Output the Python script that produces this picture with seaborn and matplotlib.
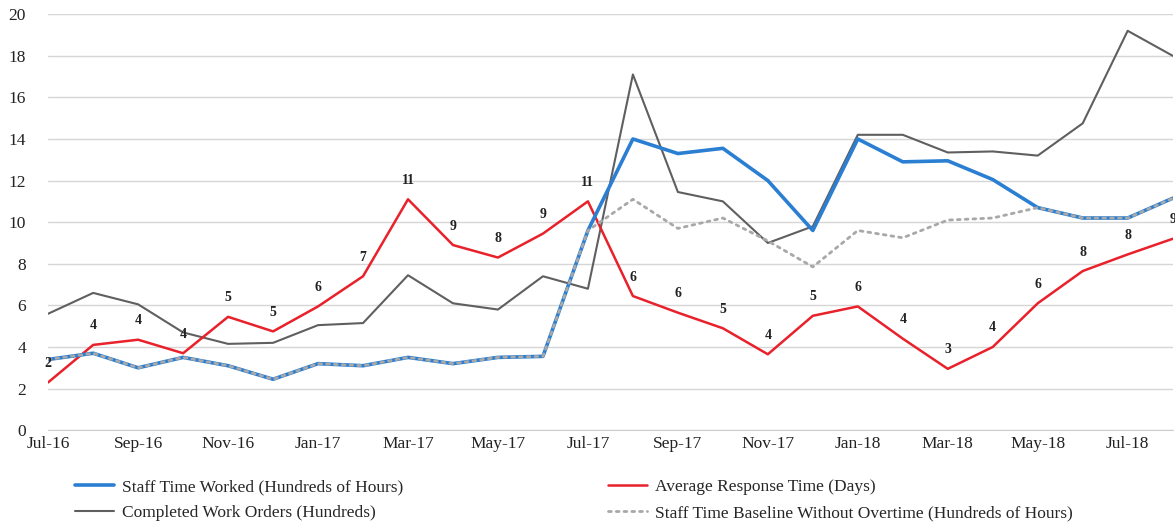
import matplotlib
matplotlib.use("Agg")
import matplotlib.pyplot as plt
import seaborn as sns
import pandas as pd

# Donnees (mensuel, Jul-16 -> Aug-18)
months = ["Jul-16", "Aug-16", "Sep-16", "Oct-16", "Nov-16", "Dec-16",
          "Jan-17", "Feb-17", "Mar-17", "Apr-17", "May-17", "Jun-17",
          "Jul-17", "Aug-17", "Sep-17", "Oct-17", "Nov-17", "Dec-17",
          "Jan-18", "Feb-18", "Mar-18", "Apr-18", "May-18", "Jun-18",
          "Jul-18", "Aug-18"]

staff_time = [3.4, 3.7, 3.0, 3.5, 3.1, 2.45, 3.2, 3.1, 3.5, 3.2, 3.5, 3.55,
              9.6, 14.0, 13.3, 13.55, 12.0, 9.6, 14.0, 12.9, 12.95, 12.05,
              10.7, 10.2, 10.2, 11.15]
response_time = [2.3, 4.1, 4.35, 3.7, 5.45, 4.75, 5.95, 7.4, 11.1, 8.9, 8.3,
                 9.45, 11.0, 6.45, 5.65, 4.9, 3.65, 5.5, 5.95, 4.4, 2.95, 4.0,
                 6.1, 7.65, 8.45, 9.2]
work_orders = [5.6, 6.6, 6.05, 4.7, 4.15, 4.2, 5.05, 5.15, 7.45, 6.1, 5.8,
               7.4, 6.8, 17.1, 11.45, 11.0, 9.0, 9.8, 14.2, 14.2, 13.35, 13.4,
               13.2, 14.75, 19.2, 18.0]
baseline = [3.4, 3.7, 3.0, 3.5, 3.1, 2.45, 3.2, 3.1, 3.5, 3.2, 3.5, 3.55,
            9.6, 11.1, 9.7, 10.2, 9.1, 7.85, 9.6, 9.25, 10.1, 10.2,
            10.7, 10.2, 10.2, 11.15]
response_labels = [2, 4, 4, 4, 5, 5, 6, 7, 11, 9, 8, 9, 11, 6, 6, 5, 4, 5,
                   6, 4, 3, 4, 6, 8, 8, 9]

df = pd.DataFrame({
    "idx": range(len(months)),
    "staff": staff_time,
    "response": response_time,
    "orders": work_orders,
    "baseline": baseline,
})

sns.set_style("white")
plt.rcParams["font.family"] = ["Liberation Serif", "DejaVu Serif"]

fig = plt.figure(figsize=(11.75, 5.24), dpi=100)
ax = fig.add_axes([0.041, 0.179, 0.957, 0.794])

sns.lineplot(data=df, x="idx", y="orders", color="#5f5f5f", lw=1.5, ax=ax,
             label="Completed Work Orders (Hundreds)")
sns.lineplot(data=df, x="idx", y="response", color="#e8212b", lw=1.8, ax=ax,
             label="Average Response Time (Days)")
sns.lineplot(data=df, x="idx", y="staff", color="#2b7fd2", lw=2.6, ax=ax,
             label="Staff Time Worked (Hundreds of Hours)")
sns.lineplot(data=df, x="idx", y="baseline", color="#a8a8a8", lw=2.0, ax=ax,
             linestyle=(0, (1, 1.8)), dash_capstyle="round",
             label="Staff Time Baseline Without Overtime (Hundreds of Hours)")

# etiquettes de la serie rouge
for i, (v, lab) in enumerate(zip(response_time, response_labels)):
    ax.annotate(str(lab), (i, v), xytext=(0, 9), textcoords="offset points",
                ha="center", va="bottom", fontsize=10, fontweight="bold",
                color="#222222")

ax.set_xlim(0, len(months) - 1)
ax.set_ylim(0, 20)
ax.set_yticks(range(0, 21, 2))
ax.set_xticks(range(len(months)))
ax.set_xticklabels([m if i % 2 == 0 else "" for i, m in enumerate(months)])
ax.tick_params(axis="x", length=5, color="#cfcfcf", labelsize=12.5,
               labelcolor="#222222", pad=2, direction="inout")
ax.tick_params(axis="y", length=0, labelsize=12.5, labelcolor="#222222", pad=16)
ax.set_xlabel("")
ax.set_ylabel("")
ax.yaxis.grid(True, color="#d6d6d6", lw=1)
for s in ["top", "right", "left"]:
    ax.spines[s].set_visible(False)
ax.spines["bottom"].set_color("#cfcfcf")

h, l = ax.get_legend_handles_labels()
order = [2, 0, 1, 3]
ax.legend([h[k] for k in order], [l[k] for k in order], ncol=2,
          loc="upper left", bbox_to_anchor=(0.0104, -0.08), frameon=False,
          fontsize=12.5, handlelength=2.2, handletextpad=0.5,
          columnspacing=11.8, labelspacing=0.55)

plt.savefig("out.png", dpi=100)
plt.close()
